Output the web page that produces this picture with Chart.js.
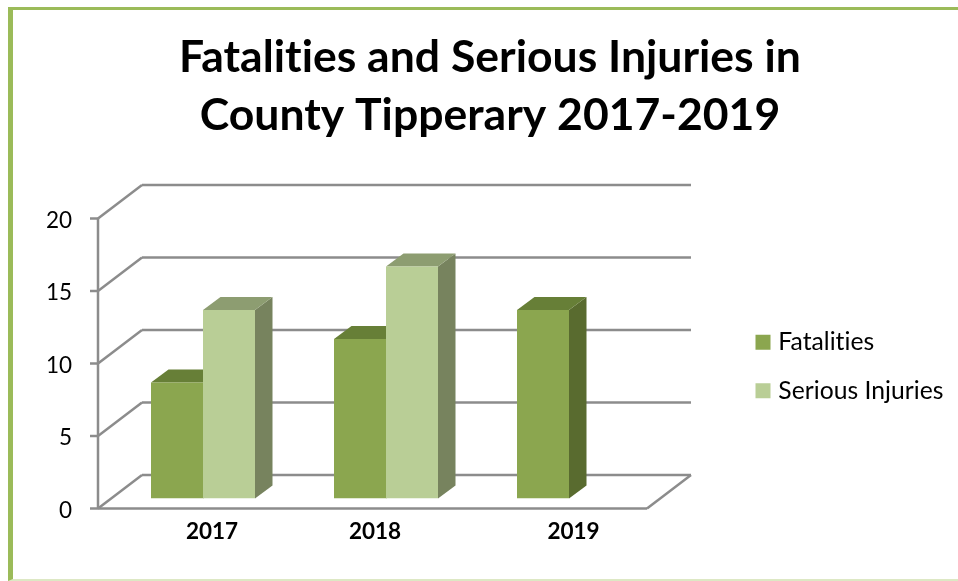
<!DOCTYPE html>
<html>
<head>
<meta charset="utf-8">
<title>Fatalities and Serious Injuries in County Tipperary 2017-2019</title>
<script src="https://cdn.jsdelivr.net/npm/chart.js@4"></script>
<style>
  html, body { margin: 0; padding: 0; background: #fff; overflow: hidden; }
  #wrap { position: relative; width: 958px; height: 581px; overflow: hidden; }
  #chart { position: absolute; left: 0; top: 0; }
  #frame {
    position: absolute; left: 8px; top: 7px; right: 0; bottom: 0;
    border-left: 5px solid #9bbb59; border-top: 3px solid #9bbb59; border-bottom: 2px solid #dde8c4;
    pointer-events: none;
  }
</style>
</head>
<body>
<div id="wrap">
  <canvas id="chart" width="958" height="581"></canvas>
  <div id="frame"></div>
</div>
<script>
// ==================== DATA ====================
const titleLines = ['Fatalities and Serious Injuries in', 'County Tipperary 2017-2019'];
const years = ['2017', '2018', '2019'];
const fatalities = [8, 11, 13];
const seriousInjuries = [13, 16, null];

// ==================== 3D LOOK ====================
const wallDepth = { x: 44, y: -33.5 };   // front plane to back wall
const barShift = { x: 13.5, y: -10 };    // front plane to bar front faces
const barDepth = { x: 17.5, y: -13 };
const gridColor = '#8c8c8c';
const faceColors = [
  { front: '#8ba64f', top: '#677f37', side: '#596b2f' },
  { front: '#b9ce96', top: '#8d9d71', side: '#77835e' }
];
const yearLabelNudge = [22.5, 2.5, 18];  // the year labels are not evenly spaced in the original

function line(ctx, x1, y1, x2, y2) {
  ctx.beginPath();
  ctx.moveTo(x1, y1);
  ctx.lineTo(x2, y2);
  ctx.stroke();
}

function poly(ctx, pts, color) {
  ctx.fillStyle = color;
  ctx.beginPath();
  pts.forEach((p, i) => i ? ctx.lineTo(p[0], p[1]) : ctx.moveTo(p[0], p[1]));
  ctx.closePath();
  ctx.fill();
}

const box3d = {
  id: 'box3d',
  beforeLayout(chart) {
    chart.ctx.letterSpacing = '0.01px';  // keeps Lato from joining "ti"
    // legend keeps the whole strip right of the plot
    const legend = chart.legend;
    if (!legend._fitPatched) {
      const fit = legend.fit;
      legend.fit = function () { fit.call(this); this.width = 311; };
      legend._fitPatched = true;
    }
  },
  afterLayout(chart) {
    chart.legend.left = 736;
    chart.legend.top += 3;
    chart.legend.bottom += 3;
    chart.scales.x.getLabelItems().forEach((item, i) => {
      item.options.translation[0] += yearLabelNudge[i];
    });
  },
  beforeDraw(chart) {
    chart.ctx.letterSpacing = '0.01px';
  },
  beforeDatasetsDraw(chart) {
    const { ctx, chartArea, scales } = chart;
    const y = scales.y;

    ctx.save();
    ctx.strokeStyle = gridColor;
    ctx.lineWidth = 2.5;
    y.ticks.forEach(t => {
      const py = y.getPixelForValue(t.value);
      line(ctx, chartArea.left - 8, py, chartArea.left, py);
      line(ctx, chartArea.left, py, chartArea.left + wallDepth.x, py + wallDepth.y);
      line(ctx, chartArea.left + wallDepth.x, py + wallDepth.y, chartArea.right + wallDepth.x, py + wallDepth.y);
    });
    line(ctx, chartArea.left, chartArea.top, chartArea.left, chartArea.bottom);
    line(ctx, chartArea.left, chartArea.bottom, chartArea.right, chartArea.bottom);
    line(ctx, chartArea.right, chartArea.bottom, chartArea.right + wallDepth.x, chartArea.bottom + wallDepth.y);
    ctx.restore();

    // bars sit partway into the floor, native fronts are drawn in this shifted space
    ctx.save();
    ctx.translate(barShift.x, barShift.y);
    chart.data.datasets.forEach((ds, d) => {
      const colors = faceColors[d];
      chart.getDatasetMeta(d).data.forEach((bar, i) => {
        if (ds.data[i] === null) return;
        const { x, y: top, base, width } = bar.getProps(['x', 'y', 'base', 'width'], true);
        const l = x - width / 2, r = x + width / 2;
        const dx = barDepth.x, dy = barDepth.y;
        poly(ctx, [[r, top], [r + dx, top + dy], [r + dx, base + dy], [r, base]], colors.side);
        poly(ctx, [[l, top], [l + dx, top + dy], [r + dx, top + dy], [r, top]], colors.top);
      });
    });
  },
  afterDatasetsDraw(chart) {
    chart.ctx.restore();
  }
};

// ==================== CHART ====================
new Chart(document.getElementById('chart').getContext('2d'), {
  type: 'bar',
  data: {
    labels: years,
    datasets: [
      { label: 'Fatalities', data: fatalities, backgroundColor: faceColors[0].front },
      { label: 'Serious Injuries', data: seriousInjuries, backgroundColor: faceColors[1].front }
    ]
  },
  plugins: [box3d],
  options: {
    responsive: false,
    animation: false,
    layout: { padding: { left: 22, right: 0, top: 0, bottom: 0 } },
    datasets: { bar: { barPercentage: 1, categoryPercentage: 104 / 183 } },
    plugins: {
      tooltip: { enabled: false },
      title: {
        display: true,
        text: titleLines,
        color: '#000',
        font: { family: 'Lato', size: 44.5, weight: 'bold', lineHeight: 58 / 44.5 },
        padding: { top: 29, bottom: 73.5 }
      },
      legend: {
        position: 'right',
        fullSize: false,
        labels: {
          // small box with a thick outline, so the text sits as close to the swatch as in the original
          boxWidth: 6,
          boxHeight: 6,
          padding: 24,
          color: '#000',
          font: { family: 'Lato', size: 24.7 },
          generateLabels: chart => Chart.defaults.plugins.legend.labels.generateLabels(chart)
            .map(item => ({ ...item, lineWidth: 9, strokeStyle: item.fillStyle }))
        }
      }
    },
    scales: {
      x: {
        grid: { display: false, drawTicks: false },
        border: { display: false },
        ticks: { color: '#000', font: { family: 'Lato', size: 22.5, weight: 'bold' }, padding: 10, maxRotation: 0 },
        afterFit(scale) { scale.height = 72.5; }
      },
      y: {
        min: 0,
        max: 20,
        grid: { display: false, drawTicks: false },
        border: { display: false },
        ticks: { stepSize: 5, color: '#000', font: { family: 'Lato', size: 22.5 }, padding: 26, labelOffset: 2 },
        afterFit(scale) { scale.width = 76; }
      }
    }
  }
});
</script>
</body>
</html>
